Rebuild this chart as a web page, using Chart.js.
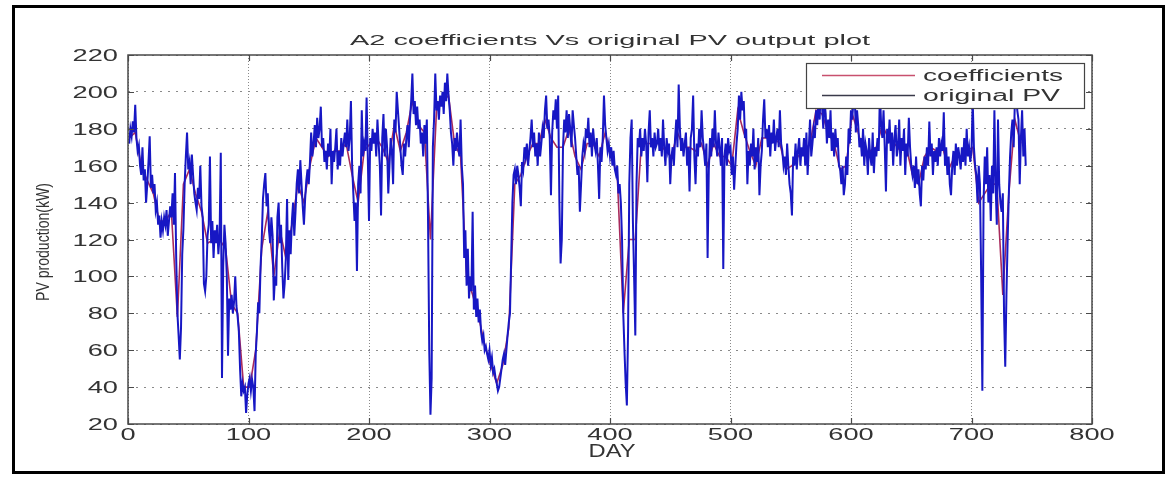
<!DOCTYPE html>
<html>
<head>
<meta charset="utf-8">
<title>A2 coefficients Vs original PV output plot</title>
<script src="https://cdn.jsdelivr.net/npm/chart.js@4.4.1/dist/chart.umd.min.js"></script>
<style>
    html, body { margin: 0; padding: 0; background: #fff; }
    #wrap { width: 1168px; height: 477px; position: relative; }
</style>
</head>
<body>
<div id="wrap"><canvas id="pvChart"></canvas></div>
<script>
// Axis ticks
const xTicks = [0, 100, 200, 300, 400, 500, 600, 700, 800];
const yTicks = [20, 40, 60, 80, 100, 120, 140, 160, 180, 200, 220];

// Daily PV output (kW), day 1 .. 745
const pvOriginal = [
    172, 180, 176, 184, 178, 193, 175, 168, 171, 160,
    155, 170, 152, 158, 140, 150, 162, 176, 148, 155,
    145, 150, 136, 140, 128, 133, 121, 130, 125, 132,
    128, 136, 122, 130, 138, 132, 145, 128, 156, 110,
    80, 68, 55, 72, 112, 126, 150, 165, 178, 158,
    162, 150, 166, 155, 145, 140, 136, 148, 142, 160,
    138, 132, 96, 92, 100, 122, 128, 165, 118, 130,
    110, 125, 118, 128, 112, 122, 167, 45, 105, 128,
    118, 100, 57, 88, 82, 90, 80, 86, 100, 84,
    78, 70, 50, 35, 42, 38, 40, 26, 36, 42,
    45, 38, 44, 40, 27, 58, 70, 86, 80, 105,
    120, 142, 150, 156, 138, 145, 125, 118, 132, 122,
    87, 100, 95, 132, 140, 118, 128, 105, 88, 96,
    110, 142, 98, 125, 112, 130, 140, 122, 135, 150,
    158, 145, 163, 150, 138, 128, 142, 152, 158, 150,
    162, 178, 165, 172, 182, 170, 186, 175, 180, 192,
    170, 175, 162, 168, 158, 172, 165, 180, 150, 168,
    162, 170, 180, 158, 168, 160, 175, 165, 172, 178,
    170, 185, 168, 175, 195, 160, 145, 130, 140, 103,
    150, 160, 145, 190, 165, 172, 168, 197, 165, 130,
    175, 168, 180, 172, 178, 165, 185, 172, 160, 133,
    175, 188, 165, 180, 170, 145, 160, 175, 168, 150,
    185, 178, 200, 190, 180, 170, 160, 155, 172, 165,
    175, 182, 170, 185, 195, 210, 188, 195, 182, 192,
    180, 185, 172, 178, 165, 182, 172, 185, 130, 60,
    25, 45, 170, 185, 210, 190, 195, 185, 198, 192,
    200, 188, 205, 195, 210, 198, 190, 178, 172, 160,
    175, 168, 178, 170, 165, 185, 160, 150, 110, 125,
    95, 115, 88, 100, 92, 135, 82, 95, 78, 88,
    75, 82, 70, 65, 68, 60, 62, 58, 55, 60,
    52, 56, 48, 50, 45, 42, 38, 40, 45, 50,
    55, 58, 52, 60, 68, 75, 80, 110, 140, 155,
    158, 150, 160, 155, 148, 138, 162, 158, 170, 165,
    172, 160, 168, 175, 185, 170, 178, 165, 172, 160,
    178, 165, 172, 180, 175, 190, 198, 180, 185, 175,
    144, 178, 190, 185, 196, 180, 198, 140, 107, 120,
    170, 185, 178, 190, 175, 188, 180, 170, 190, 182,
    175, 165, 155, 160, 135, 150, 165, 172, 168, 180,
    175, 186, 170, 178, 165, 180, 172, 168, 175, 160,
    142, 170, 162, 175, 198, 182, 175, 168, 172, 165,
    170, 160, 168, 158, 155, 160, 145, 150, 140, 120,
    80, 60, 42, 30, 70, 150, 175, 185, 130, 100,
    68, 150, 175, 170, 180, 165, 175, 168, 180, 172,
    151, 178, 190, 170, 175, 165, 178, 170, 172, 180,
    168, 175, 165, 185, 170, 160, 175, 168, 172, 150,
    165, 170, 160, 175, 185, 170, 204, 180, 168, 175,
    165, 172, 178, 160, 170, 146, 175, 180, 198, 165,
    150, 172, 165, 180, 170, 190, 175, 168, 160, 172,
    110, 158, 175, 165, 180, 170, 190, 172, 165, 178,
    170, 160, 175, 104, 165, 172, 160, 175, 168, 170,
    155, 165, 147, 160, 172, 180, 198, 185, 200, 190,
    195, 175, 180, 150, 168, 160, 172, 165, 180, 158,
    170, 162, 175, 144, 160, 168, 185, 196, 175, 180,
    170, 182, 165, 178, 172, 185, 168, 175, 180, 170,
    190, 172, 168, 160, 165, 155, 172, 160, 150, 145,
    133, 165, 160, 172, 158, 168, 175, 160, 170, 165,
    175, 160, 178, 155, 170, 185, 165, 172, 180, 175,
    190, 182, 198, 185, 205, 192, 180, 195, 188, 172,
    185, 175, 190, 168, 178, 165, 180, 170, 175, 160,
    158, 150, 160, 144, 150, 165, 155, 180, 172, 190,
    185, 195, 200, 178, 190, 182, 170, 175, 165, 180,
    160, 172, 168, 155, 175, 165, 160, 178, 156, 170,
    165, 175, 168, 200, 182, 175, 190, 170, 146, 180,
    172, 185, 168, 178, 160, 175, 182, 165, 170, 185,
    160, 175, 168, 180, 155, 172, 165, 186, 170, 160,
    155, 160, 148, 165, 150, 158, 145, 138, 160, 152,
    165, 158, 170, 160, 184, 165, 172, 155, 168, 162,
    170, 160, 175, 165, 172, 168, 189, 160, 170, 155,
    165, 150, 144, 160, 168, 155, 172, 160, 170, 165,
    158, 170, 162, 175, 160, 180, 165, 170, 162, 168,
    195, 170, 160, 155, 140, 160, 150, 102, 38, 140,
    165, 150, 170, 140, 155, 130, 160, 145, 190, 150,
    128, 185, 150, 140, 135, 145, 80, 51, 90, 120,
    145, 165, 178, 185, 170, 195, 200, 190, 185, 150,
    175, 190, 165, 180, 160
];

// A2 coefficients, one value every 5 days starting at day 1
const coefStep = 5;
const coefValues = [
    175, 178, 160, 152, 145, 130, 130, 135, 78, 150,
    158, 145, 135, 118, 120, 120, 115, 85, 80, 40,
    40, 60, 115, 135, 100, 125, 110, 128, 150, 140,
    160, 175, 170, 165, 168, 168, 172, 155, 140, 168,
    172, 175, 170, 162, 182, 168, 178, 195, 182, 178,
    120, 190, 195, 198, 172, 165, 100, 90, 78, 63,
    52, 42, 52, 72, 150, 155, 165, 172, 172, 185,
    175, 170, 170, 180, 165, 158, 172, 172, 165, 178,
    165, 155, 80, 120, 120, 172, 172, 172, 172, 168,
    165, 178, 170, 170, 168, 172, 160, 172, 165, 165,
    160, 190, 178, 168, 160, 175, 175, 175, 172, 158,
    160, 165, 168, 172, 190, 188, 178, 172, 158, 160,
    188, 178, 165, 168, 170, 182, 175, 172, 168, 170,
    155, 150, 165, 170, 168, 170, 158, 165, 165, 168,
    170, 140, 145, 150, 150, 90, 145, 185, 172
];

const seriesNames = ['coefficients', 'original PV'];
const seriesColors = ['#a82a5c', '#1717c4'];
const legendColors = ['#c8506e', '#3a3a4a'];

const chartTitle = 'A2 coefficients Vs original PV output plot';
const xTitle = 'DAY';
const yTitle = 'PV production(kW)';

const TEXT_COLOR = '#333333';
const FONT = '"Liberation Sans", Arial, sans-serif';
const NUM_STRETCH = 1.6;

// draw text squeezed/stretched horizontally, either by factor or to a fixed width
function drawText(ctx, text, x, y, size, opts) {
    ctx.font = size + 'px ' + FONT;
    const w = ctx.measureText(text).width;
    const sx = opts.width ? opts.width / w : (opts.stretch || 1);
    ctx.save();
    ctx.translate(x, y);
    if (opts.rotate) ctx.rotate(opts.rotate);
    ctx.scale(sx, 1);
    ctx.textAlign = opts.align || 'center';
    ctx.textBaseline = 'alphabetic';
    ctx.fillStyle = TEXT_COLOR;
    ctx.fillText(text, 0, 0);
    ctx.restore();
}

const backgroundPlugin = {
    id: 'background',
    beforeDraw(chart) {
        const ctx = chart.ctx;
        ctx.save();
        ctx.fillStyle = '#ffffff';
        ctx.fillRect(0, 0, chart.width, chart.height);
        ctx.restore();
    }
};

const decorPlugin = {
    id: 'decor',
    afterDraw(chart) {
        const ctx = chart.ctx;
        const a = chart.chartArea;
        const xs = chart.scales.x;
        const ys = chart.scales.y;

        ctx.save();

        // axes box
        ctx.strokeStyle = '#4a4a4a';
        ctx.lineWidth = 1.5;
        ctx.strokeRect(a.left, a.top, a.right - a.left, a.bottom - a.top);

        // inward tick marks on all four sides
        ctx.lineWidth = 1.2;
        ctx.beginPath();
        xTicks.forEach(v => {
            const px = Math.round(xs.getPixelForValue(v)) + 0.5;
            ctx.moveTo(px, a.bottom); ctx.lineTo(px, a.bottom - 6);
            ctx.moveTo(px, a.top); ctx.lineTo(px, a.top + 6);
        });
        yTicks.forEach(v => {
            const py = Math.round(ys.getPixelForValue(v)) + 0.5;
            ctx.moveTo(a.left, py); ctx.lineTo(a.left + 6, py);
            ctx.moveTo(a.right, py); ctx.lineTo(a.right - 6, py);
        });
        ctx.stroke();

        // tick labels
        xTicks.forEach(v => {
            drawText(ctx, String(v), xs.getPixelForValue(v), a.bottom + 16, 17, { stretch: NUM_STRETCH });
        });
        yTicks.forEach(v => {
            drawText(ctx, String(v), a.left - 10, ys.getPixelForValue(v) + 6, 17, { stretch: NUM_STRETCH, align: 'right' });
        });

        // titles
        drawText(ctx, chartTitle, 610, 45, 14, { width: 520 });
        drawText(ctx, xTitle, 612, 457, 19, { width: 47 });
        drawText(ctx, yTitle, 49, 242, 18, { width: 118, rotate: -Math.PI / 2 });

        // legend box
        const lx = 806, ly = 63, lw = 278, lh = 45;
        ctx.fillStyle = '#ffffff';
        ctx.fillRect(lx, ly, lw, lh);
        ctx.strokeStyle = '#444444';
        ctx.lineWidth = 1.2;
        ctx.strokeRect(lx + 0.5, ly + 0.5, lw, lh);
        const rows = [75, 95];
        seriesNames.forEach((name, i) => {
            ctx.strokeStyle = legendColors[i];
            ctx.lineWidth = 1.3;
            ctx.beginPath();
            ctx.moveTo(822, rows[i] + 0.5);
            ctx.lineTo(915, rows[i] + 0.5);
            ctx.stroke();
            drawText(ctx, name, 923, rows[i] + 6, 16, { width: i === 0 ? 140 : 137, align: 'left' });
        });

        // outer frame
        ctx.strokeStyle = '#000000';
        ctx.lineWidth = 3;
        ctx.strokeRect(13.5, 6.5, 1150, 466);

        ctx.restore();
    }
};

function buildDatasets() {
    const coefPoints = coefValues.map((v, i) => ({ x: 1 + i * coefStep, y: v }));
    const pvPoints = pvOriginal.map((v, i) => ({ x: i + 1, y: v }));
    return [
        {
            label: seriesNames[0],
            data: coefPoints,
            borderColor: seriesColors[0],
            borderWidth: 1.6,
            pointRadius: 0,
            tension: 0,
            order: 2
        },
        {
            label: seriesNames[1],
            data: pvPoints,
            borderColor: seriesColors[1],
            borderWidth: 2,
            pointRadius: 0,
            tension: 0,
            order: 1
        }
    ];
}

document.addEventListener('DOMContentLoaded', function() {
    const ctx = document.getElementById('pvChart').getContext('2d');

    new Chart(ctx, {
        type: 'line',
        data: { datasets: buildDatasets() },
        options: {
            responsive: true,
            maintainAspectRatio: false,
            animation: false,
            layout: {
                padding: { left: 128, right: 76, top: 55, bottom: 53 }
            },
            plugins: {
                legend: { display: false },
                title: { display: false },
                tooltip: { enabled: false }
            },
            scales: {
                x: {
                    type: 'linear',
                    min: 0,
                    max: 800,
                    ticks: { display: false, stepSize: 100 },
                    grid: { color: '#8a8a8a', lineWidth: 1, drawTicks: false },
                    border: { display: false, dash: [1, 2] }
                },
                y: {
                    min: 20,
                    max: 220,
                    ticks: { display: false, stepSize: 20 },
                    grid: { color: '#8a8a8a', lineWidth: 1, drawTicks: false },
                    border: { display: false, dash: [2, 6] }
                }
            }
        },
        plugins: [backgroundPlugin, decorPlugin]
    });
});
</script>
</body>
</html>
